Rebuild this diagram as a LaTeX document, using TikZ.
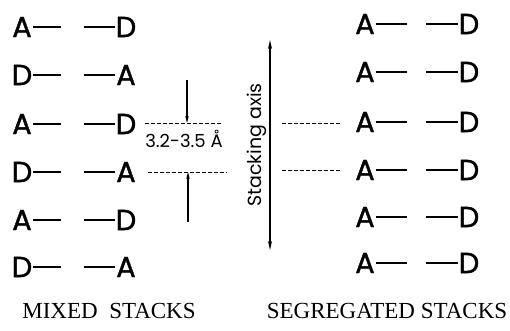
\documentclass[tikz,border=0pt]{standalone}
\usepackage{fontspec}
\setmainfont{Liberation Serif}
\newfontfamily\geo[FakeBold=1.2]{Poppins}
\newfontfamily\geol{Poppins}
\usetikzlibrary{arrows.meta}
\tikzset{
  lt/.style={font=\geo\fontsize{29}{29}\selectfont, inner sep=0pt},
  bond/.style={line width=2pt},
  dotl/.style={line width=1pt, dash pattern=on 3.5pt off 2.5pt},
  meas/.style={line width=1.3pt, -{Stealth[length=7pt,width=3.5pt]}},
  axis/.style={line width=1.5pt, {Stealth[length=9pt,width=4pt]}-{Stealth[length=9pt,width=4pt]}},
  caption/.style={font=\fontsize{23}{23}\selectfont, inner sep=0pt}
}
\begin{document}
\begin{tikzpicture}[x=1pt,y=-1pt]
\useasboundingbox (0,0) rectangle (510,330);
% mixed stacks
\foreach \y/\l/\r [count=\i] in {27/A/D,75/D/A,124/A/D,172/D/A,220/A/D,267/D/A}{
  \node[lt] (ml\i) at (22,\y) {\l};
  \node[lt] (mr\i) at (126,\y) {\r};
  \draw[bond] ([xshift=1pt]ml\i.east) -- ++(28,0);
  \draw[bond] ([xshift=-1pt]mr\i.west) -- ++(-31,0);
}
% segregated stacks
\foreach \y [count=\i] in {24,72,122,170,217,263}{
  \node[lt] (sl\i) at (365,\y) {A};
  \node[lt] (sr\i) at (469,\y) {D};
  \draw[bond] ([xshift=1pt]sl\i.east) -- ++(31,0);
  \draw[bond] ([xshift=-1pt]sr\i.west) -- ++(-32,0);
}
% spacing measure
\coordinate (d1a) at (145,123); \coordinate (d1b) at (221,123);
\coordinate (d2a) at (148,172); \coordinate (d2b) at (227,172);
\draw[dotl] (d1a) -- (d1b);
\draw[dotl] (d2a) -- (d2b);
\coordinate (t1) at (187,80); \coordinate (h1) at (187,123);
\coordinate (t2) at (188,222); \coordinate (h2) at (188,172);
\draw[meas] (t1) -- (h1);
\draw[meas] (t2) -- (h2);
\node[font=\geol\fontsize{18}{18}\selectfont, inner sep=0pt] (dist) at (184,139) {3.2-3.5 Å};
% stacking axis
\coordinate (ax1) at (270,40); \coordinate (ax2) at (270,250);
\draw[axis] (ax1) -- (ax2);
\node[font=\geol\fontsize{19}{19}\selectfont, inner sep=0pt, rotate=90] (axl) at (257,145) {Stacking axis};
\coordinate (d3a) at (282,123); \coordinate (d3b) at (340,123);
\coordinate (d4a) at (282,170); \coordinate (d4b) at (340,170);
\draw[dotl] (d3a) -- (d3b);
\draw[dotl] (d4a) -- (d4b);
% captions
\node[caption] (c1) at (109,311) {MIXED\ \ STACKS};
\node[caption] (c2) at (387,311) {SEGREGATED STACKS};
\end{tikzpicture}
\end{document}
